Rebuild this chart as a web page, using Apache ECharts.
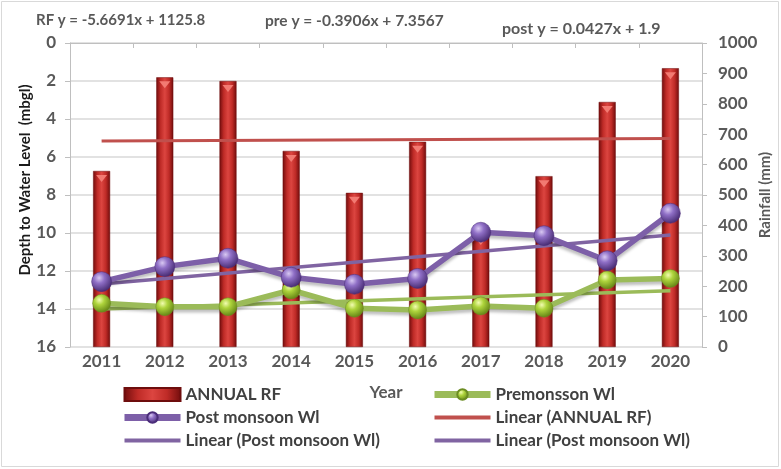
<!DOCTYPE html>
<html>
<head>
<meta charset="utf-8">
<script src="https://cdn.jsdelivr.net/npm/echarts@6/dist/echarts.min.js"></script>
<style>
html,body{margin:0;padding:0;background:#fff;}
#chart{width:781px;height:469px;}
</style>
</head>
<body>
<div id="chart"></div>
<script>
// data
var years = ['2011','2012','2013','2014','2015','2016','2017','2018','2019','2020'];
var annualRF = [579, 887, 875, 645, 507, 675, 372, 562, 806, 917];
var preWL = [13.7, 13.88, 13.88, 13.0, 13.96, 14.05, 13.84, 13.96, 12.47, 12.39];
var postWL = [12.56, 11.77, 11.33, 12.33, 12.7, 12.39, 9.96, 10.14, 11.46, 8.96];
// trend line ends (2011, 2020)
var rfTrendEnds = [678, 686];
var postTrendEnds = [12.68, 10.1];
var preTrendEnds = [14.0, 13.04];
var equations = ['RF y = -5.6691x + 1125.8', 'pre y = -0.3906x + 7.3567', 'post y = 0.0427x + 1.9'];

function ends(e){
  var a = years.map(function(){ return null; });
  a[0] = e[0]; a[a.length-1] = e[1];
  return a;
}

var font = 'Lato, "Open Sans", sans-serif';
var grey = '#595959';

var barColor = {type:'linear', x:0, y:0, x2:1, y2:0, colorStops:[
  {offset:0, color:'#700c0c'}, {offset:0.25, color:'#bf2b27'},
  {offset:0.5, color:'#dc4540'}, {offset:0.75, color:'#bf2b27'}, {offset:1, color:'#700c0c'}]};
var purpleBall = {type:'radial', x:0.38, y:0.32, r:0.75, colorStops:[
  {offset:0, color:'#d8c8f2'}, {offset:0.35, color:'#8f6fc6'}, {offset:1, color:'#3d2266'}]};
var greenBall = {type:'radial', x:0.38, y:0.32, r:0.75, colorStops:[
  {offset:0, color:'#f2fcb0'}, {offset:0.35, color:'#aed43c'}, {offset:1, color:'#5a7a10'}]};

var legendText = {fontFamily:font, fontSize:17, fontWeight:'bold', color:'#404040'};

var myChart = echarts.init(document.getElementById('chart'));
var option = {
  animation:false,
  textStyle:{fontFamily:font},
  grid:{left:70, right:61, top:43, bottom:122},
  graphic:[
    {type:'rect', shape:{x:1.5, y:1.5, width:777, height:465}, style:{fill:'none', stroke:'#d9d9d9', lineWidth:1}, silent:true},
    {type:'text', left:36, top:13, style:{text:equations[0], font:'bold 15px ' + font, fill:grey}},
    {type:'text', left:265, top:13, style:{text:equations[1], font:'bold 15.5px ' + font, fill:grey}},
    {type:'text', left:502, top:21, style:{text:equations[2], font:'bold 16px ' + font, fill:grey}},
    {type:'text', x:25, y:180, rotation:Math.PI/2,
     style:{text:'Depth to Water Level  (mbgl)', font:'bold 15px ' + font, fill:'#1a1a1a',
       align:'center', verticalAlign:'middle'}}
  ],
  legend:[
    {left:116, top:381, orient:'vertical', itemWidth:56, itemHeight:13, itemGap:6, textStyle:legendText,
     data:[{name:'ANNUAL RF', icon:'rect'},
       {name:'Post monsoon Wl', lineStyle:{width:7}},
       {name:'Linear (Post monsoon Wl)', itemStyle:{opacity:0}, lineStyle:{width:4}}]},
    {left:426, top:381, orient:'vertical', itemWidth:56, itemHeight:13, itemGap:6, textStyle:legendText,
     data:[{name:'Premonsson Wl', lineStyle:{width:7}},
       {name:'Linear (ANNUAL RF)', itemStyle:{opacity:0}, lineStyle:{width:4}},
       {name:'Linear (Post monsoon Wl) ', itemStyle:{opacity:0}, lineStyle:{color:'#8064a2', width:4}}]}
  ],
  xAxis:{
    type:'category', data:years, boundaryGap:true,
    name:'Year', nameLocation:'middle', nameGap:37,
    nameTextStyle:{fontFamily:font, fontSize:17, fontWeight:'bold', color:grey},
    axisLine:{lineStyle:{color:'#bfbfbf'}},
    axisTick:{show:true, length:5, lineStyle:{color:'#bfbfbf'}},
    axisLabel:{fontFamily:font, fontSize:17, fontWeight:'bold', color:grey, margin:6}
  },
  yAxis:[
    {type:'value', min:0, max:16, interval:2, inverse:true,
     axisLine:{show:true, lineStyle:{color:'#bfbfbf'}},
     axisTick:{show:true, length:5, lineStyle:{color:'#bfbfbf'}},
     axisLabel:{fontFamily:font, fontSize:17, fontWeight:'bold', color:grey, margin:14},
     splitLine:{lineStyle:{color:'#d9d9d9', width:1.5}}},
    {type:'value', min:0, max:1000, interval:100,
     name:'Rainfall (mm)', nameLocation:'middle', nameGap:56, nameRotate:90, nameMoveOverlap:false,
     nameTextStyle:{fontFamily:font, fontSize:15, fontWeight:'bold', color:grey},
     axisLine:{show:true, lineStyle:{color:'#bfbfbf'}},
     axisTick:{show:true, length:5, lineStyle:{color:'#bfbfbf'}},
     axisLabel:{fontFamily:font, fontSize:17, fontWeight:'bold', color:grey, margin:16,
       formatter:function(v){ return String(v); }},
     splitLine:{show:false}}
  ],
  series:[
    {name:'ANNUAL RF', type:'bar', yAxisIndex:1, data:annualRF, barWidth:17, barGap:'-100%',
     itemStyle:{color:barColor, borderColor:'#6e0d0d', borderWidth:0.5}, z:1},
    {name:'cap', type:'pictorialBar', yAxisIndex:1, data:annualRF, barWidth:17, barGap:'-100%',
     symbol:'triangle', symbolRotate:180, symbolSize:[11, 7], symbolPosition:'end', symbolOffset:[0, 4],
     itemStyle:{color:'#f27a72'}, z:2, silent:true},
    {name:'Linear (ANNUAL RF)', type:'line', yAxisIndex:1, data:ends(rfTrendEnds), connectNulls:true,
     symbol:'none', lineStyle:{color:'#c0504d', width:3}, itemStyle:{color:'#c0504d'}, z:3},
    {name:'Linear (Post monsoon Wl) ', type:'line', yAxisIndex:0, data:ends(preTrendEnds), connectNulls:true,
     symbol:'none', lineStyle:{color:'#9bbb59', width:3.5}, itemStyle:{color:'#9bbb59'}, z:3},
    {name:'Linear (Post monsoon Wl)', type:'line', yAxisIndex:0, data:ends(postTrendEnds), connectNulls:true,
     symbol:'none', lineStyle:{color:'#8064a2', width:3.5}, itemStyle:{color:'#8064a2'}, z:3},
    {name:'Premonsson Wl', type:'line', yAxisIndex:0, data:preWL,
     symbol:'circle', symbolSize:18,
     lineStyle:{color:'#9bbb59', width:5.5, shadowColor:'rgba(0,0,0,0.25)', shadowBlur:3, shadowOffsetY:3},
     itemStyle:{color:greenBall, borderColor:'#6b8c22', borderWidth:0.5}, z:4},
    {name:'Post monsoon Wl', type:'line', yAxisIndex:0, data:postWL,
     symbol:'circle', symbolSize:20,
     lineStyle:{color:'#7d5fa8', width:5.5, shadowColor:'rgba(0,0,0,0.25)', shadowBlur:3, shadowOffsetY:3},
     itemStyle:{color:purpleBall, borderColor:'#4b2d7a', borderWidth:0.5}, z:5}
  ]
};
myChart.setOption(option);
</script>
</body>
</html>
